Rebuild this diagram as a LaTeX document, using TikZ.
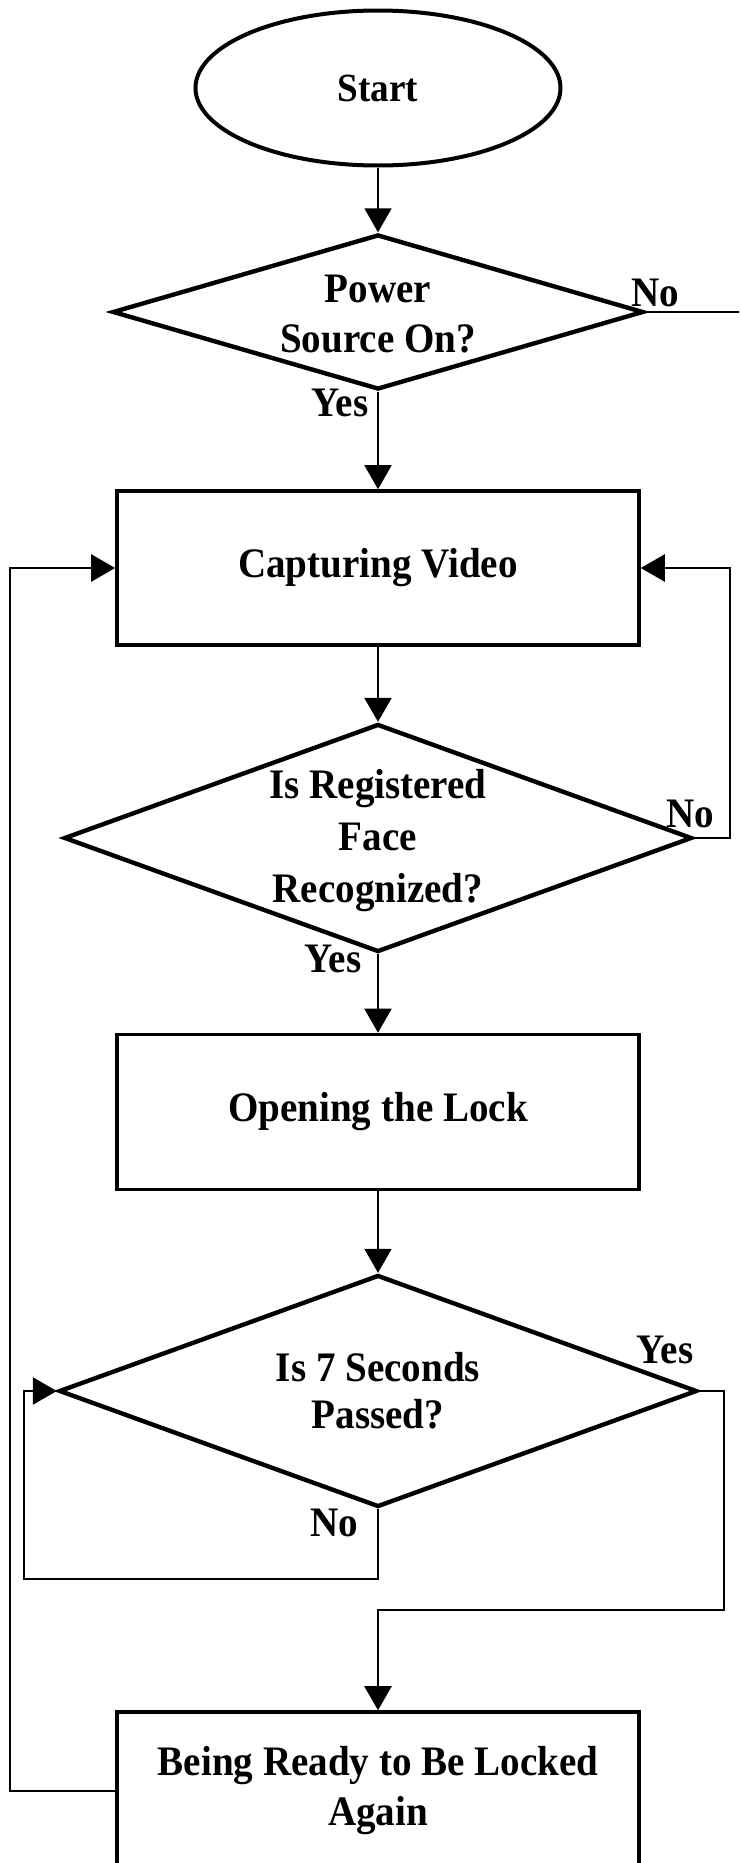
\documentclass[tikz,border=0pt]{standalone}
\usepackage{fontspec}
\setmainfont{Liberation Serif}[FakeStretch=0.93]
\usetikzlibrary{shapes.geometric,arrows.meta}
\begin{document}
\begin{tikzpicture}[x=1pt,y=-1pt,
  txt/.style={font=\fontsize{42}{50}\selectfont\bfseries, align=center, inner sep=0pt},
  lbl/.style={font=\fontsize{42}{50}\selectfont\bfseries, inner sep=0pt},
  boxnode/.style={draw, line width=3.6pt, rectangle, minimum width=522pt, inner sep=0pt, txt},
  dia/.style={draw, line width=4.4pt, diamond, inner sep=0pt},
  thinc/.style={line width=1.8pt},
  medc/.style={line width=2.4pt},
  thickc/.style={line width=2.8pt},
  arr/.style={-{Triangle[length=24pt,width=27pt]}}
]
\useasboundingbox (0,0) rectangle (739,1863);
\clip (0,0) rectangle (739,1863);

% shapes
\node[draw, line width=4pt, ellipse, minimum width=365pt, minimum height=155pt, inner sep=0pt,
      font=\fontsize{40}{46}\selectfont\bfseries] (start) at (378,88) {Start};

\node[dia, minimum width=531pt, minimum height=155pt] (d1) at (378,312) {};
\node[txt] (d1t) at (378,314) {Power\\Source On?};

\node[boxnode, minimum height=154pt] (b1) at (378,568) {Capturing Video};

\node[dia, minimum width=628pt, minimum height=228pt] (d2) at (378,838) {};
\node[txt, font=\fontsize{42}{52}\selectfont\bfseries] (d2t) at (378,841) {Is Registered\\Face\\Recognized?};

\node[boxnode, minimum height=155pt] (b2) at (378,1112) {Opening the Lock};

\node[dia, minimum width=638pt, minimum height=232pt] (d3) at (378,1391) {};
\node[txt, font=\fontsize{42}{47}\selectfont\bfseries] (d3t) at (378,1391) {Is 7 Seconds\\Passed?};

\node[boxnode, minimum height=158pt] (b3) at (378,1791) {Being Ready to Be Locked\\Again};

% labels
\node[lbl] (l1) at (655,293) {No};
\node[lbl] (l2) at (340,403) {Yes};
\node[lbl] (l3) at (690,814) {No};
\node[lbl] (l4) at (333,959) {Yes};
\node[lbl] (l5) at (665,1350) {Yes};
\node[lbl] (l6) at (334,1523) {No};

% helper coordinates
\coordinate (noend) at (745,312);
\coordinate (r2) at (730,838);
\coordinate (c3) at (378,1579);
\coordinate (c4) at (24,1579);
\coordinate (c5) at (724,1391);
\coordinate (c6) at (724,1610);
\coordinate (c7) at (10,1791);

% connectors
\draw[thinc, arr] (start.south) -- (d1.north);
\draw[thinc] (d1.east) -- (noend);
\draw[thinc, arr] (d1.south) -- (b1.north);
\draw[thickc, arr] (b1.south) -- (d2.north);
\draw[medc, arr] (d2.east) -- (r2) |- (b1.east);
\draw[thinc, arr] (d2.south) -- (b2.north);
\draw[thinc, arr] (b2.south) -- (d3.north);
\draw[medc, arr] (d3.south) -- (c3) -- (c4) |- (d3.west);
\draw[medc, arr] (d3.east) -- (c5) -- (c6) -| (b3.north);
\draw[medc, arr] (b3.west) -- (c7) |- (b1.west);
\end{tikzpicture}
\end{document}
